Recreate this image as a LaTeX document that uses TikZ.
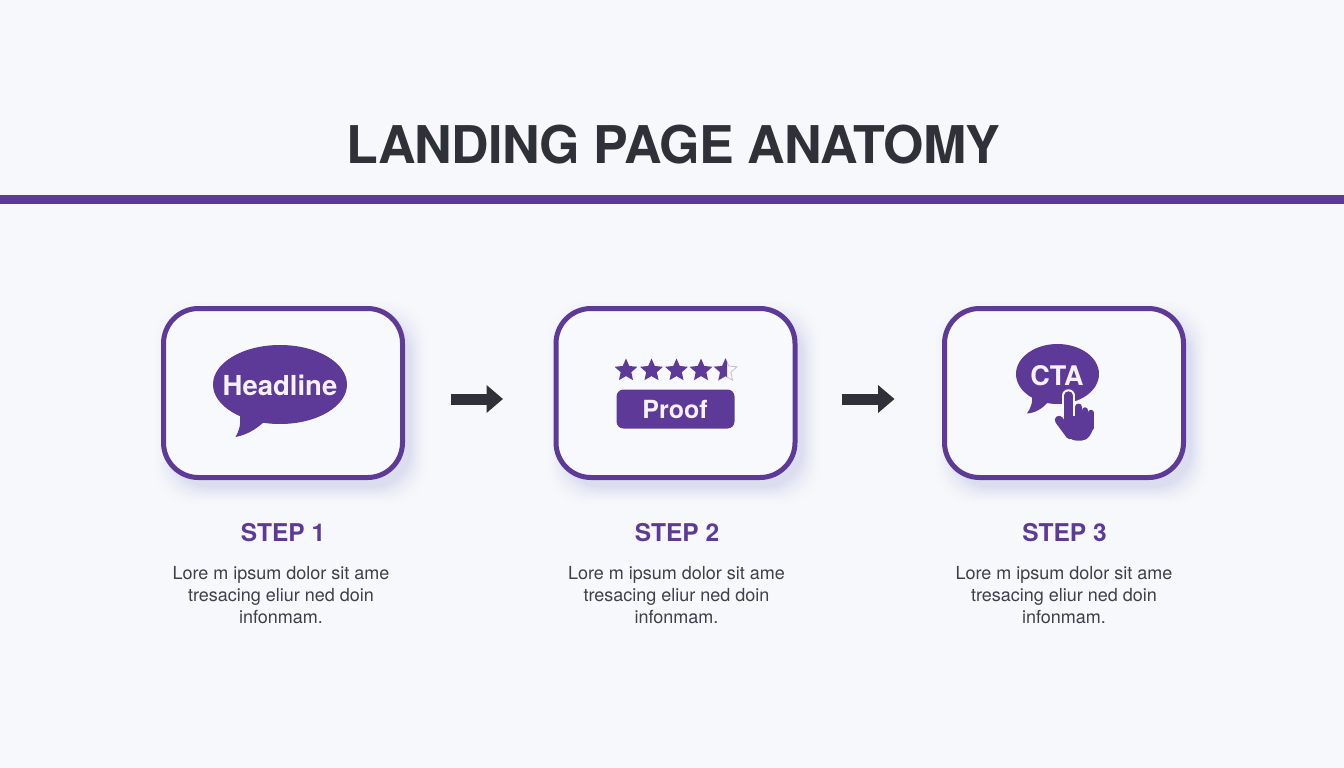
\documentclass[tikz,border=0pt]{standalone}
\usepackage{fontspec}
\setmainfont{TeX Gyre Heros}
\newfontfamily\titlefont[LetterSpace=-1.4]{TeX Gyre Heros}
\usetikzlibrary{arrows.meta,shapes.geometric,calc}
\definecolor{bgc}{HTML}{F6F8FB}
\definecolor{inner}{HTML}{F8F9FC}
\definecolor{purp}{HTML}{5E3A98}
\definecolor{ink}{HTML}{2F3138}
\definecolor{bodyc}{HTML}{3F4048}
\definecolor{shade}{HTML}{DCDEF0}
\definecolor{paper}{HTML}{F6F1FB}
\tikzset{
  x=1pt,y=-1pt,
  cardbox/.style={draw=purp,line width=5pt,fill=inner,rounded corners=35pt,minimum width=239pt,minimum height=169pt,inner sep=0pt,outer sep=0pt},
  steplabel/.style={text=purp,font=\fontsize{24.5}{28}\selectfont\bfseries,inner sep=0pt,anchor=base},
  bodytext/.style={text=bodyc,font=\fontsize{18}{22}\selectfont,align=center,inner sep=0pt},
  flowarrow/.style={draw=ink,line width=11pt,-{Triangle[length=16.5pt,width=27pt]}},
  iconword/.style={text=paper,font=\bfseries,inner sep=0pt},
  starshape/.style={star,star points=5,star point ratio=2.15,minimum size=24pt,inner sep=0pt,fill=purp,draw=none},
}
\newcommand{\softshadow}[4]{% cx cy w h
  \foreach \e in {20,19,...,0}{
    \pgfmathsetmacro{\p}{100*(1-\e/20)*(1-\e/20)}
    \fill[shade!\p!bgc,rounded corners=38pt]
      ({#1+8-#3/2-\e},{#2+10-#4/2-\e}) rectangle ({#1+8+#3/2+\e},{#2+10+#4/2+\e});
  }
}
\begin{document}
\begin{tikzpicture}
\useasboundingbox (0,0) rectangle (1344,768);
\fill[bgc] (0,0) rectangle (1344,768);
\node[text=ink,font=\fontsize{52}{56}\titlefont\bfseries,inner sep=0pt,anchor=base] (title) at (673.5,163) {LANDING PAGE ANATOMY};
\fill[purp] (0,194.5) rectangle (1344,204);
\softshadow{283}{393}{239}{169}
\softshadow{675.5}{393}{239}{169}
\softshadow{1064}{393}{239}{169}
\node[cardbox] (box1) at (283,393) {};
\node[cardbox] (box2) at (675.5,393) {};
\node[cardbox] (box3) at (1064,393) {};
\draw[flowarrow] ([shift={(48.5,6)}]box1.east) -- ([shift={(-53,6)}]box2.west);
\draw[flowarrow] ([shift={(46.5,6)}]box2.east) -- ([shift={(-50,6)}]box3.west);
% headline bubble
\node[ellipse,fill=purp,minimum width=134pt,minimum height=79pt,inner sep=0pt] (bub1) at (280,384.5) {};
\fill[purp] (240,415) .. controls (241,425) and (239,431) .. (235.5,437) .. controls (246,435) and (255,430) .. (264,422) -- cycle;
\node[iconword,font=\fontsize{27.5}{30}\selectfont\bfseries] (headline) at (280,385) {Headline};
% proof
\foreach \n/\cx in {s1/626,s2/651.5,s3/676.5,s4/701}{
  \node[starshape] (\n) at (\cx,370.5) {};
}
\node[star,star points=5,star point ratio=2.15,minimum size=24pt,inner sep=0pt,draw=purp!35,line width=0.8pt,fill=inner] (s5) at (725.5,370.5) {};
\begin{scope}
\clip (710,355) rectangle (727,385);
\node[starshape] (s5b) at (725.5,370.5) {};
\end{scope}
\node[fill=purp,rounded corners=7pt,minimum width=118pt,minimum height=39pt,inner sep=0pt] (proofbox) at (675.5,409) {};
\node[iconword,font=\fontsize{25}{28}\selectfont\bfseries] (proof) at (675,409) {Proof};
% CTA bubble
\node[ellipse,fill=purp,minimum width=83pt,minimum height=60pt,inner sep=0pt] (bub3) at (1057.5,374) {};
\fill[purp] (1032,393) .. controls (1033,402) and (1031,408) .. (1027,413.5) .. controls (1035,413) and (1042,409) .. (1048,402) -- cycle;
\node[iconword,font=\fontsize{27}{30}\selectfont\bfseries] (cta) at (1057,376) {CTA};
% hand: halo, then hand
\foreach \col/\ex in {inner/4,purp/0}{
  \draw[\col,line width={8.5+\ex*1pt},line cap=round] (1068.5,395.5) -- (1068.5,425);
  \draw[\col,line width={7+\ex*1pt},line cap=round] (1078.5,407) -- (1078.5,428);
  \draw[\col,line width={6.5+\ex*1pt},line cap=round] (1085,410.5) -- (1085,428);
  \draw[\col,line width={5.5+\ex*1pt},line cap=round] (1090.8,412.5) -- (1090.8,428);
  \draw[\col,line width={8.5+\ex*1pt},line cap=round] (1059,420) -- (1070,435);
  \fill[\col,rounded corners=5pt] (1064.3,416) -- (1093.6,416) -- (1093.6,429) -- (1087,440.5) -- (1071,440.5) -- (1062,428) -- cycle;
}
% labels
\node[steplabel] (step1) at (283,541) {STEP 1};
\node[steplabel] (step2) at (677,541) {STEP 2};
\node[steplabel] (step3) at (1064.5,541) {STEP 3};
\node[bodytext] (text1) at (281,595.5) {Lore m ipsum dolor sit ame\\tresacing eliur ned doin\\infonmam.};
\node[bodytext] (text2) at (676.5,595.5) {Lore m ipsum dolor sit ame\\tresacing eliur ned doin\\infonmam.};
\node[bodytext] (text3) at (1064,595.5) {Lore m ipsum dolor sit ame\\tresacing eliur ned doin\\infonmam.};
\end{tikzpicture}
\end{document}
